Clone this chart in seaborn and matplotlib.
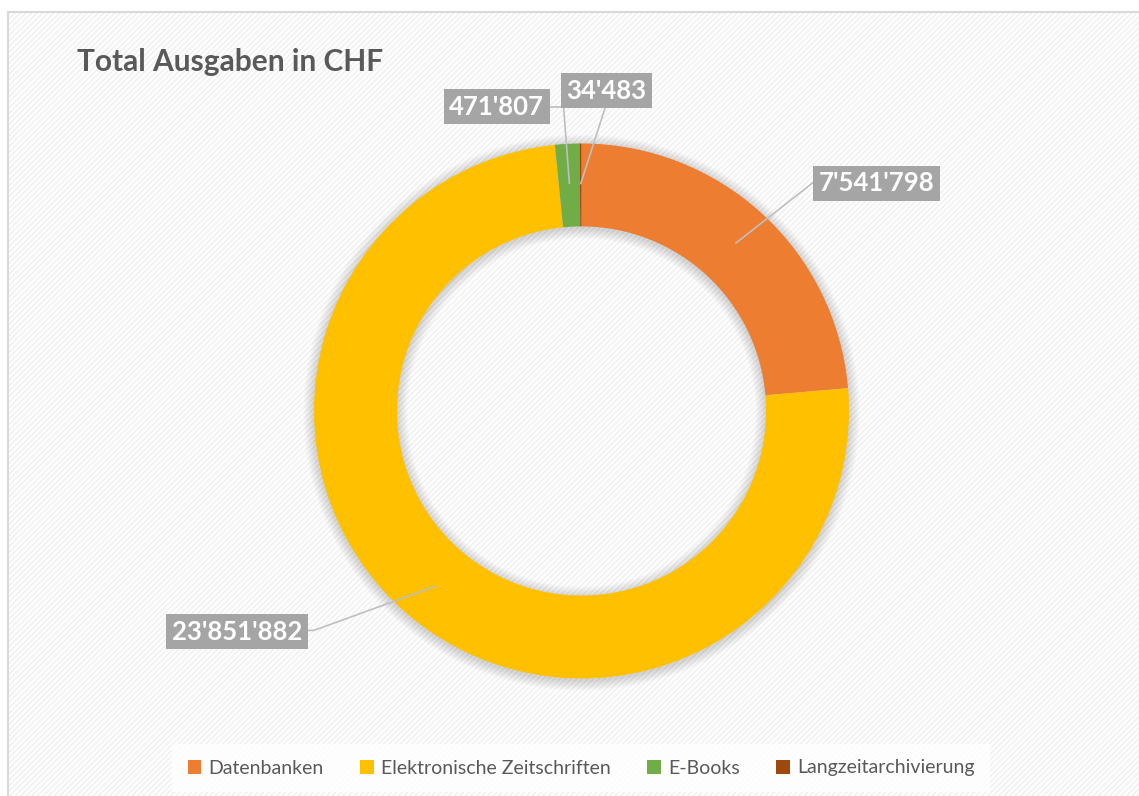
import matplotlib
matplotlib.use("Agg")
import matplotlib.pyplot as plt
import matplotlib.patches as mpatches
import numpy as np
import seaborn as sns

# ---- data ----
categories = ["Datenbanken", "Elektronische Zeitschriften", "E-Books", "Langzeitarchivierung"]
values = [7541798, 23851882, 471807, 34483]
value_labels = ["7'541'798", "23'851'882", "471'807", "34'483"]
colors = ["#ED7D31", "#FFC000", "#70AD47", "#9E480E"]
title = "Total Ausgaben in CHF"

sns.set_theme(style="white")
plt.rcParams['font.family'] = ['Lato', 'DejaVu Sans']
plt.rcParams['hatch.linewidth'] = 1.2
plt.rcParams['hatch.color'] = '#F1F1F1'

W, H = 1139, 796
fig = plt.figure(figsize=(W / 100, H / 100), dpi=100)
fig.patch.set_facecolor("white")

# chart area with light diagonal pattern and border
bg = mpatches.Rectangle((8 / W, 0), 1.2, 1 - 12 / H, transform=fig.transFigure,
                        facecolor="white", edgecolor="#F1F1F1", hatch="//////",
                        linewidth=0, zorder=-10)
fig.patches.append(bg)
border = mpatches.Rectangle((8 / W, -0.1), 1.2, 1 - 12 / H + 0.1, transform=fig.transFigure,
                            facecolor="none", edgecolor="#D9D9D9", linewidth=1.5, zorder=-9)
fig.patches.append(border)

# axes placed so that pie radius 1 == 267.5 px, center at (581.5, 411)
R = 267.5
cx, cy = 581.5, 411
span = 2.4
axw = span * R
ax = fig.add_axes([(cx - axw / 2) / W, (H - cy - axw / 2) / H, axw / W, axw / H])
ax.set_zorder(1)
ax.set_xlim(-1.2, 1.2)
ax.set_ylim(-1.2, 1.2)
ax.set_aspect("equal")
ax.axis("off")
ax.patch.set_alpha(0)

ring_w = 0.31

# soft shadow around ring
for i in range(10):
    d = 0.004 * (i + 1)
    sh = mpatches.Wedge((0, -0.006), 1 + d, 0, 360, width=ring_w + 2 * d,
                        facecolor="#000000", alpha=0.014, linewidth=0, zorder=1)
    ax.add_patch(sh)

wedges, _ = ax.pie(values, colors=colors, startangle=90, counterclock=False,
                   radius=1, wedgeprops=dict(width=ring_w, linewidth=0, edgecolor="none"))
for w in wedges:
    w.set_zorder(2)
ax.set_xlim(-1.2, 1.2)
ax.set_ylim(-1.2, 1.2)

# labels with leader lines
total = float(sum(values))
fr = np.cumsum([0] + values[:-1]) / total + np.array(values) / total / 2
label_pos = [(1.104, 0.851), (-1.287, -0.825), (-0.317, 1.138), (0.093, 1.198)]
elbows = [(0.876, 0.862), (-1.0, -0.82), (-0.067, 1.138), None]
r_mid = 0.85
for i, (lab, f) in enumerate(zip(value_labels, fr)):
    ang = 2 * np.pi * f
    sx, sy = r_mid * np.sin(ang), r_mid * np.cos(ang)
    tx, ty = label_pos[i]
    ax.text(tx, ty, lab, ha="center", va="center", fontsize=18.5, fontweight="bold",
            color="white", zorder=5,
            bbox=dict(boxstyle="square,pad=0.22", facecolor="#A5A5A5", edgecolor="none"))
    if elbows[i] is not None:
        ex, ey = elbows[i]
        ax.plot([sx, ex], [sy, ey], color="#BFBFBF", lw=1.2, zorder=4, solid_capstyle="butt")
        ax.plot([ex, tx], [ey, ty], color="#BFBFBF", lw=1.2, zorder=3)
    else:
        ax.plot([sx, tx], [sy, ty - 0.05], color="#BFBFBF", lw=1.2, zorder=4)

# title
fig.text(77 / W, 1 - 62 / H, title, fontsize=21.5, fontweight="bold", color="#595959",
         ha="left", va="center")

# legend
handles = [mpatches.Patch(facecolor=c, edgecolor="none") for c in colors]
leg = fig.legend(handles, categories, loc="center", bbox_to_anchor=(581 / W, 1 - 768 / H),
                 ncol=4, frameon=True, fontsize=14, handlelength=0.7, handleheight=0.7,
                 handletextpad=0.35, columnspacing=1.9, borderpad=0.5)
leg.get_frame().set_facecolor("white")
leg.get_frame().set_edgecolor("none")
leg.get_frame().set_boxstyle("square")
for t in leg.get_texts():
    t.set_color("#595959")

fig.savefig("out.png", dpi=100, facecolor=fig.get_facecolor())
